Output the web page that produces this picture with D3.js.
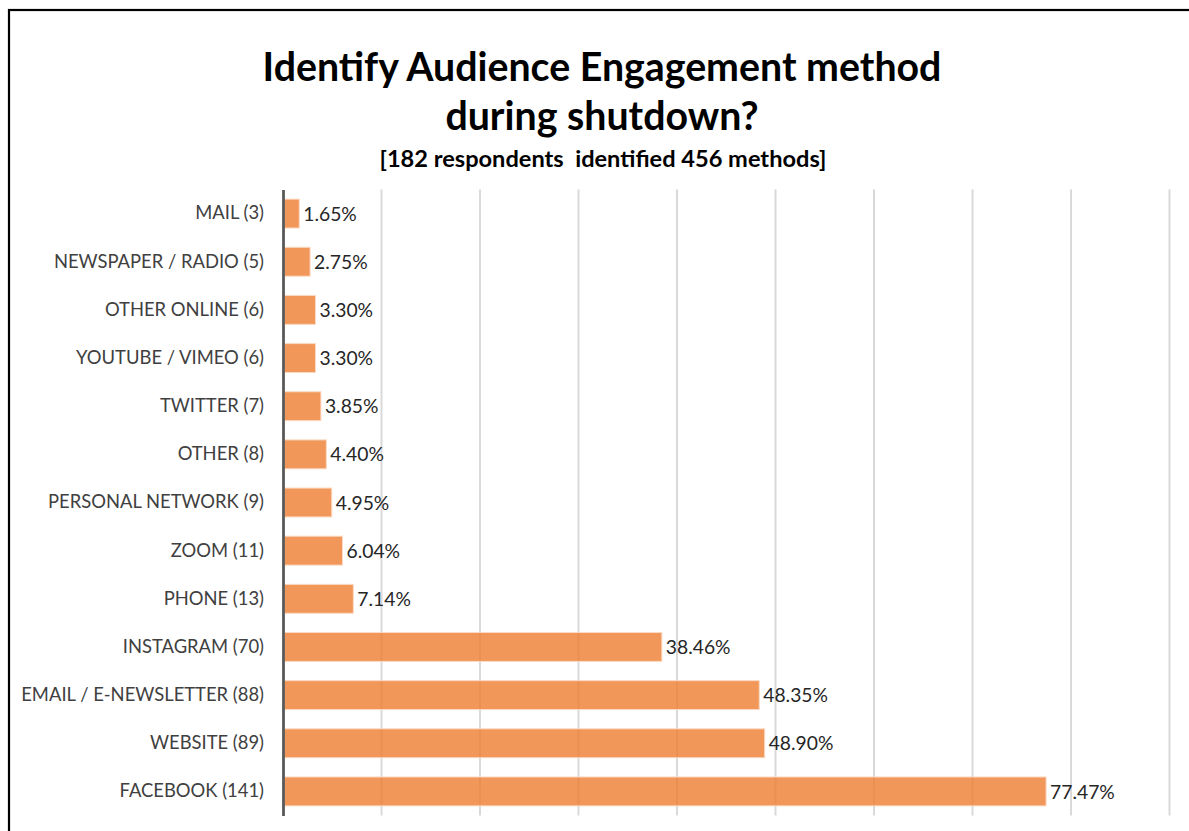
<!DOCTYPE html>
<html>
<head>
  <meta charset="utf-8">
  <title>Audience Engagement</title>
  <script src="https://cdn.jsdelivr.net/npm/d3@7"></script>
  <style>
    body { margin: 0; background: #fff; }
    text { font-family: Lato, "Open Sans", sans-serif; white-space: pre; }
  </style>
</head>
<body>
  <script>
    // data (top to bottom)
    const methods = ["MAIL (3)", "NEWSPAPER / RADIO (5)", "OTHER ONLINE (6)", "YOUTUBE / VIMEO (6)",
      "TWITTER (7)", "OTHER (8)", "PERSONAL NETWORK (9)", "ZOOM (11)", "PHONE (13)",
      "INSTAGRAM (70)", "EMAIL / E-NEWSLETTER (88)", "WEBSITE (89)", "FACEBOOK (141)"];
    const percents = [1.65, 2.75, 3.30, 3.30, 3.85, 4.40, 4.95, 6.04, 7.14, 38.46, 48.35, 48.90, 77.47];
    const gridTicks = [0, 10, 20, 30, 40, 50, 60, 70, 80, 90, 100];

    const w = 1189;
    const h = 831;

    const svg = d3.select("body")
      .append("svg")
      .attr("width", w)
      .attr("height", h);

    // outer frame (right and bottom edges fall outside the picture)
    svg.append("rect")
      .attr("x", 9).attr("y", 10)
      .attr("width", 1300).attr("height", 900)
      .attr("fill", "none")
      .attr("stroke", "#000")
      .attr("stroke-width", 2.2);

    // title
    svg.append("text")
      .attr("x", 602).attr("y", 81)
      .attr("text-anchor", "middle")
      .attr("font-size", 39.3).attr("font-weight", "bold")
      .attr("fill", "#000")
      .text("Identify Audience Engagement method");
    svg.append("text")
      .attr("x", 602).attr("y", 130)
      .attr("text-anchor", "middle")
      .attr("font-size", 39.3).attr("font-weight", "bold")
      .attr("fill", "#000")
      .text("during shutdown?");
    svg.append("text")
      .attr("x", 603).attr("y", 167)
      .attr("text-anchor", "middle")
      .attr("font-size", 23.6).attr("font-weight", "bold")
      .attr("fill", "#000")
      .text("[182 respondents  identified 456 methods]");

    // scales
    const xScale = d3.scaleLinear()
      .domain([0, 100])
      .range([283, 1268]);
    const yScale = d3.scaleBand()
      .domain(methods)
      .range([189.5, 815.5])
      .paddingInner(0.4)
      .paddingOuter(0.2);

    // vertical gridlines
    svg.selectAll("line.grid")
      .data(gridTicks.slice(1))
      .enter()
      .append("line")
      .attr("class", "grid")
      .attr("x1", d => xScale(d)).attr("x2", d => xScale(d))
      .attr("y1", 189.5).attr("y2", 815.5)
      .attr("stroke", "#d9d9d9")
      .attr("stroke-width", 2);

    // bars
    svg.selectAll("rect.bar")
      .data(percents)
      .enter()
      .append("rect")
      .attr("class", "bar")
      .attr("x", xScale(0) + 1.5)
      .attr("y", (d, i) => yScale(methods[i]))
      .attr("width", d => xScale(d) - xScale(0) - 1.5)
      .attr("height", yScale.bandwidth())
      .attr("fill", "#ED7D31")
      .attr("fill-opacity", 0.8)
      .attr("stroke", "#fbd9c2")
      .attr("stroke-width", 1);

    // value labels
    svg.selectAll("text.val")
      .data(percents)
      .enter()
      .append("text")
      .attr("class", "val")
      .attr("x", d => xScale(d) + 4)
      .attr("y", (d, i) => yScale(methods[i]) + yScale.bandwidth() / 2)
      .attr("dy", "0.37em")
      .attr("font-size", 19.3)
      .attr("fill", "#262626")
      .text(d => d.toFixed(2) + "%");

    // category axis
    const yAxis = d3.axisLeft(yScale).tickSize(0).tickPadding(19);
    const gy = svg.append("g")
      .attr("transform", `translate(${xScale(0)},0)`)
      .call(yAxis);
    gy.select(".domain")
      .attr("stroke", "#595959")
      .attr("stroke-width", 2.8);
    gy.selectAll(".tick text")
      .attr("font-family", "Lato, sans-serif")
      .attr("font-size", 18.4)
      .attr("fill", "#404040");
  </script>
</body>
</html>
